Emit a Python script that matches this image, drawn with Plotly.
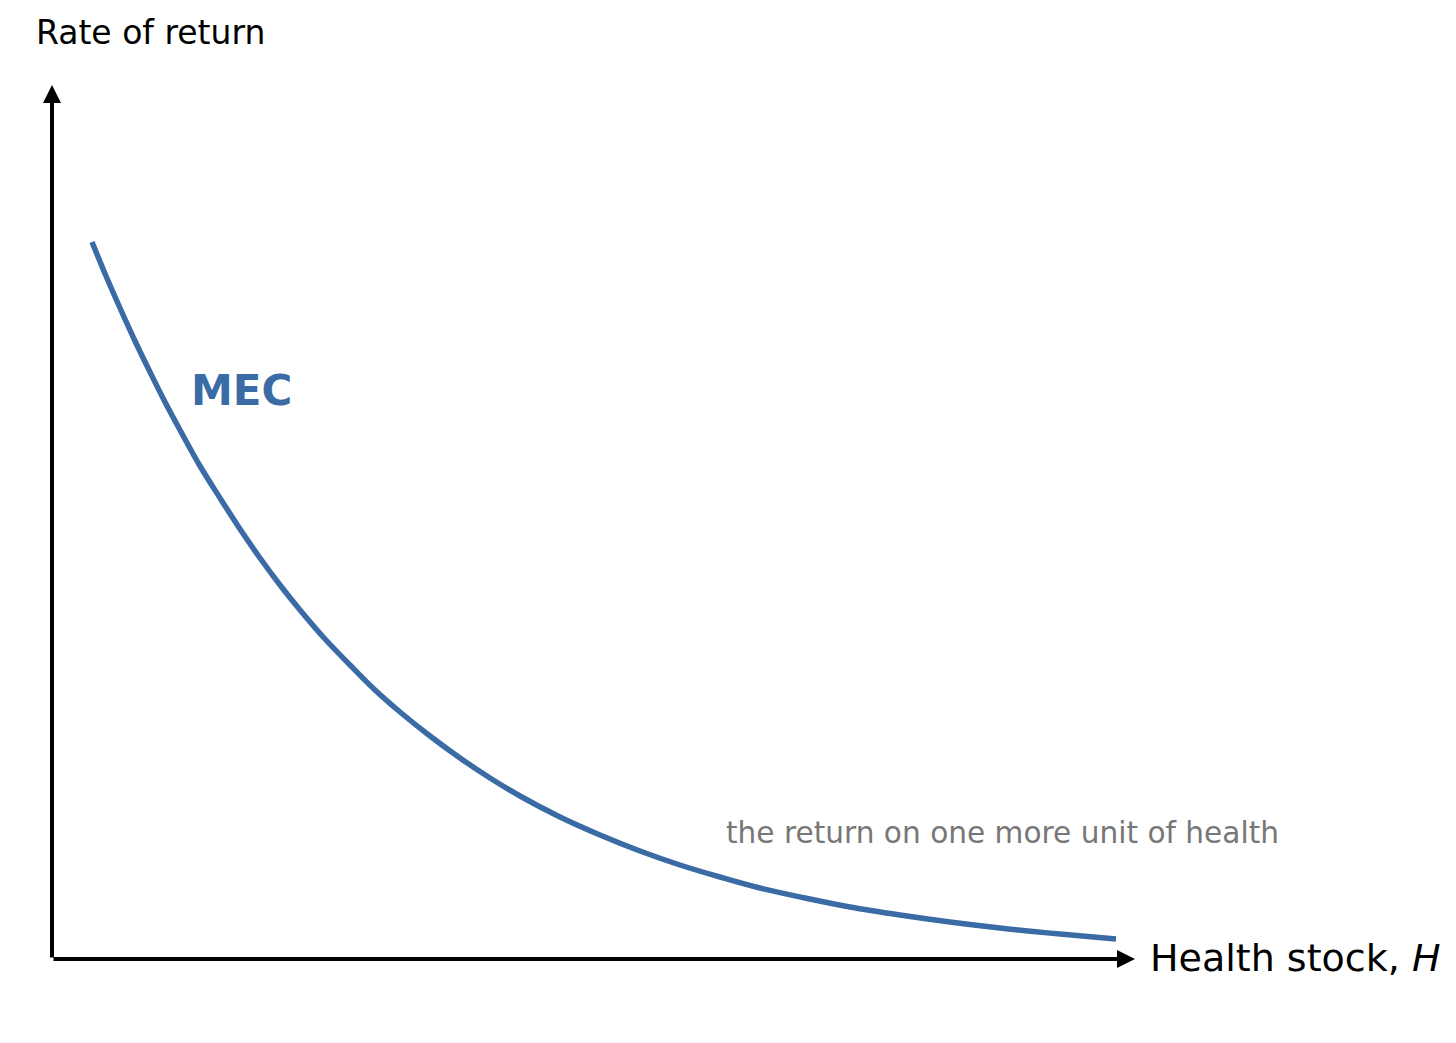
import plotly.graph_objects as go

# Data -------------------------------------------------------------------------
health_stock = [0.40, 0.54, 0.68, 0.83, 0.98, 1.13, 1.28, 1.48, 1.68, 1.88,
                2.08, 2.28, 2.48, 2.73, 2.98, 3.23, 3.48, 3.78, 4.08, 4.38,
                4.68, 5.08, 5.48, 5.88, 6.28, 6.68, 7.08, 7.53, 7.98, 8.48,
                8.98, 9.48, 10.08, 10.64]
mec_return = [7.17, 6.83, 6.51, 6.18, 5.87, 5.57, 5.29, 4.93, 4.61, 4.30,
              4.01, 3.74, 3.49, 3.20, 2.94, 2.69, 2.47, 2.23, 2.01, 1.81,
              1.63, 1.42, 1.24, 1.08, 0.94, 0.82, 0.71, 0.61, 0.52, 0.44,
              0.37, 0.31, 0.25, 0.20]

# where the axis arrows end
x_axis_end = 10.83
y_axis_end = 8.74

# Styles -----------------------------------------------------------------------
curve_colour = '#3b6ba5'
axis_colour = 'black'
font_family = 'DejaVu Sans'

fig = go.Figure()

# MEC curve
fig.add_trace(go.Scatter(
    x=health_stock, y=mec_return, mode='lines',
    line=dict(color=curve_colour, width=5.5, shape='spline', smoothing=1),
    name='MEC', cliponaxis=False))

# Axes as arrows
for tip_x, tip_y in [(0, y_axis_end), (x_axis_end, 0)]:
    fig.add_annotation(
        x=tip_x, y=tip_y, ax=0, ay=0,
        xref='x', yref='y', axref='x', ayref='y',
        showarrow=True, arrowhead=2, arrowsize=0.9, arrowwidth=4,
        arrowcolor=axis_colour, text='')

# Labels
fig.add_annotation(
    x=-0.18, y=9.27, xref='x', yref='y', text='Rate of return',
    showarrow=False, xanchor='left', yanchor='middle',
    font=dict(family=font_family, size=33, color='black'))
fig.add_annotation(
    x=10.96, y=0.01, xref='x', yref='y', text='Health stock, <i>H</i>',
    showarrow=False, xanchor='left', yanchor='middle',
    font=dict(family=font_family, size=38, color='black'))
fig.add_annotation(
    x=1.37, y=5.69, xref='x', yref='y', text='<b>MEC</b>',
    showarrow=False, xanchor='left', yanchor='middle',
    font=dict(family=font_family, size=42, color=curve_colour))
fig.add_annotation(
    x=6.72, y=1.26, xref='x', yref='y',
    text='the return on one more unit of health',
    showarrow=False, xanchor='left', yanchor='middle',
    font=dict(family=font_family, size=29.6, color='#777777'))

# the page body adds an 8px margin, so the figure is 16px smaller
fig.update_layout(
    width=1440, height=1027,
    margin=dict(l=0, r=0, t=0, b=0),
    paper_bgcolor='white', plot_bgcolor='white',
    showlegend=False,
    xaxis=dict(range=[-0.44, 13.96], visible=False, fixedrange=True),
    yaxis=dict(range=[-0.76, 9.51], visible=False, fixedrange=True),
)

fig.write_html('out.html')
